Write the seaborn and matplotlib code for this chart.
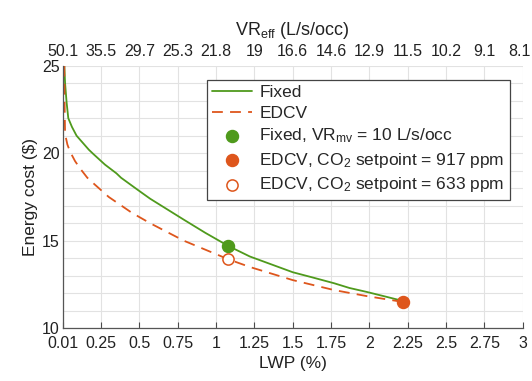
import numpy as np
import pandas as pd
import matplotlib
matplotlib.use("Agg")
import matplotlib.pyplot as plt
import matplotlib.transforms as mtransforms
import seaborn as sns

# curve values
lwp_fixed = [0.01, 0.015, 0.025, 0.036, 0.06, 0.09, 0.13, 0.17, 0.2, 0.275, 0.35, 0.38, 0.49,
             0.57, 0.68, 0.79, 0.93, 1.08, 1.22, 1.36, 1.5, 1.63, 1.77, 1.87, 1.98, 2.1, 2.2]
cost_fixed = [25.0, 24.0, 22.9, 22.0, 21.5, 21.0, 20.6, 20.2, 19.95, 19.35, 18.85, 18.6, 17.9,
              17.4, 16.8, 16.2, 15.45, 14.7, 14.1, 13.65, 13.2, 12.9, 12.57, 12.3, 12.08, 11.82, 11.6]

lwp_edcv = [0.01, 0.011, 0.013, 0.015, 0.03, 0.047, 0.08, 0.112, 0.16, 0.21, 0.3, 0.45,
            0.57, 0.79, 1.08, 1.22, 1.5, 1.77, 1.98, 2.22]
cost_edcv = [25.0, 23.5, 22.2, 21.1, 20.5, 20.1, 19.55, 19.14, 18.6, 18.2, 17.5, 16.6,
             16.0, 15.0, 13.94, 13.5, 12.75, 12.18, 11.84, 11.5]

# highlighted points
pt_fixed_10 = (1.076, 14.71)
pt_edcv_917 = (2.217, 11.51)
pt_edcv_633 = (1.076, 13.94)

# ticks
lwp_ticks = [0, 0.25, 0.5, 0.75, 1, 1.25, 1.5, 1.75, 2, 2.25, 2.5, 2.75, 3]
lwp_labels = ["0.01", "0.25", "0.5", "0.75", "1", "1.25", "1.5", "1.75", "2", "2.25", "2.5", "2.75", "3"]
vr_labels = ["50.1", "35.5", "29.7", "25.3", "21.8", "19", "16.6", "14.6", "12.9", "11.5", "10.2", "9.1", "8.1"]

green = "#4f9a1c"
orange = "#de561c"

sns.set_style("white")
plt.rcParams["font.family"] = ["Liberation Sans", "DejaVu Sans"]
plt.rcParams["mathtext.fontset"] = "custom"
plt.rcParams["mathtext.rm"] = "Liberation Sans"
plt.rcParams["mathtext.it"] = "Liberation Sans"

fig = plt.figure(figsize=(5.32, 3.81), dpi=100)
ax = fig.add_axes([0.118, 0.1385, 0.8645, 0.689])

df_fixed = pd.DataFrame({"LWP": lwp_fixed, "cost": cost_fixed})
df_edcv = pd.DataFrame({"LWP": lwp_edcv, "cost": cost_edcv})

sns.lineplot(data=df_fixed, x="LWP", y="cost", sort=False, color=green, lw=1.3,
             label="Fixed", ax=ax)
sns.lineplot(data=df_edcv, x="LWP", y="cost", sort=False, color=orange, lw=1.3,
             label="EDCV", ax=ax)
ax.lines[1].set_dashes([6, 4])

sns.scatterplot(x=[pt_fixed_10[0]], y=[pt_fixed_10[1]], color=green, s=75,
                edgecolor=green, linewidth=1, label=r"Fixed, VR$_{\rm mv}$ = 10 L/s/occ", ax=ax, zorder=5)
sns.scatterplot(x=[pt_edcv_917[0]], y=[pt_edcv_917[1]], color=orange, s=75,
                edgecolor=orange, linewidth=1, label=r"EDCV, CO$_2$ setpoint = 917 ppm", ax=ax, zorder=5)
sns.scatterplot(x=[pt_edcv_633[0]], y=[pt_edcv_633[1]], facecolor="white", s=65,
                edgecolor=orange, linewidth=1.1, label=r"EDCV, CO$_2$ setpoint = 633 ppm", ax=ax, zorder=5)

ax.set_xlim(0, 3)
ax.set_ylim(10, 25)
ax.set_xticks(lwp_ticks)
ax.set_xticklabels(lwp_labels)
ax.set_yticks([10, 15, 20, 25])
ax.set_yticks(np.arange(10, 26, 1), minor=True)
ax.grid(True, which="major", color="#e2e2e2", lw=0.8)
ax.grid(True, which="minor", axis="y", color="#e2e2e2", lw=0.8)
ax.set_axisbelow(True)
ax.tick_params(which="both", direction="in", colors="#4a4a4a", labelcolor="#222222",
               labelsize=11.5, length=4, width=0.8)
ax.tick_params(axis="x", pad=5.5)
ax.tick_params(axis="y", pad=2)
ax.tick_params(which="minor", length=2.5)
for side in ["top", "right"]:
    ax.spines[side].set_visible(False)
for side in ["left", "bottom"]:
    ax.spines[side].set_color("#555555")
    ax.spines[side].set_linewidth(0.9)
ax.set_xlabel("LWP (%)", fontsize=12.5, color="#222222", labelpad=4)
ax.set_ylabel("Energy cost ($)", fontsize=12.5, color="#222222", labelpad=3)

# top axis with ventilation rate
ax2 = ax.twiny()
ax2.set_xlim(0, 3)
ax2.set_xticks(lwp_ticks)
ax2.set_xticklabels(vr_labels)
ax2.tick_params(axis="x", length=0, labelsize=11.5, labelcolor="#222222", pad=5)
for side in ax2.spines:
    ax2.spines[side].set_visible(False)
ax2.set_xlabel(r"VR$_{\rm eff}$ (L/s/occ)", fontsize=13, color="#222222", labelpad=6)
# nudge the last top label so it stays inside the figure
last = ax2.get_xticklabels()[-1]
last.set_transform(last.get_transform() + mtransforms.ScaledTranslation(-3 / 100, 0, fig.dpi_scale_trans))

leg = ax.legend(loc="upper right", bbox_to_anchor=(0.972, 0.946), borderaxespad=0,
                fontsize=12.5, frameon=True, fancybox=False, handlelength=2.3,
                labelspacing=0.32, borderpad=0.3, handletextpad=0.4)
leg.get_frame().set_edgecolor("#444444")
leg.get_frame().set_linewidth(0.9)
leg.get_frame().set_alpha(1)

fig.savefig("out.png", dpi=100)
